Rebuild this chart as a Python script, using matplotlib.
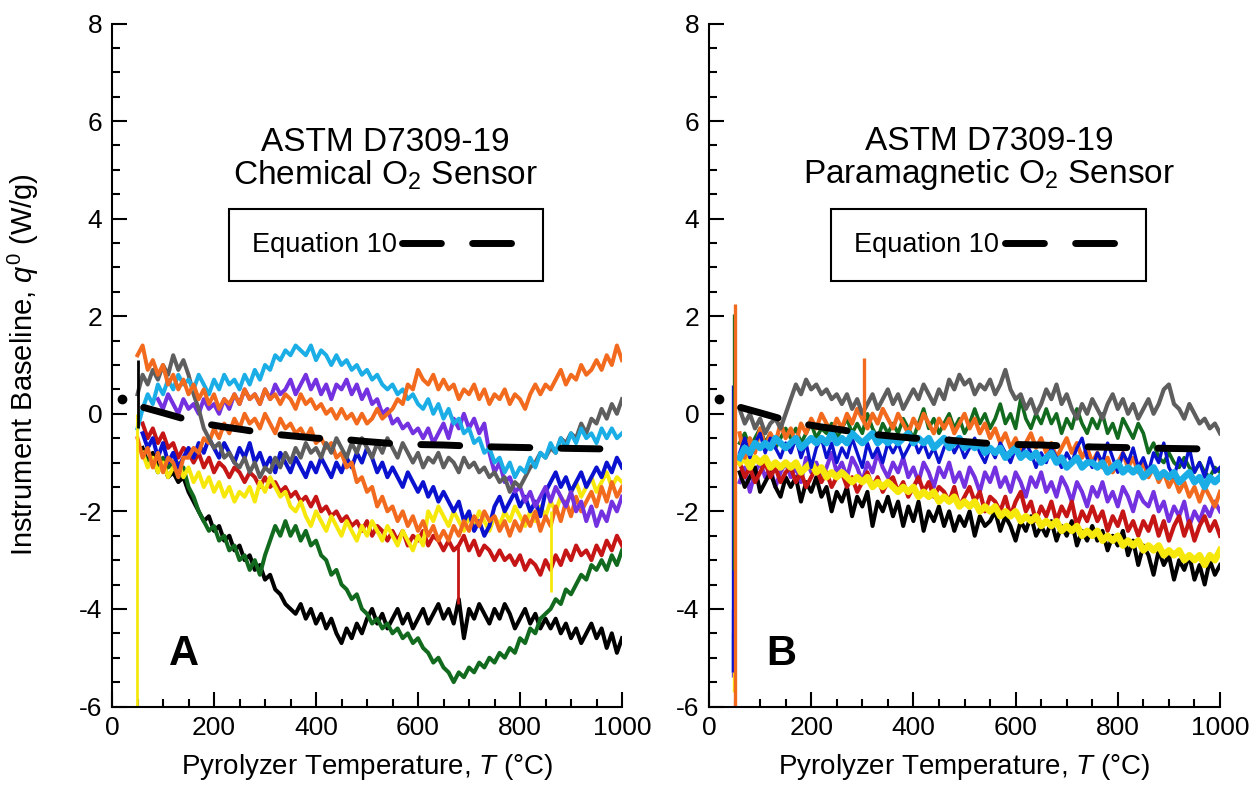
import matplotlib
matplotlib.use('Agg')
import matplotlib.pyplot as plt
from matplotlib.ticker import MultipleLocator
import numpy as np

plt.rcParams['font.family'] = ['Liberation Sans', 'DejaVu Sans']
plt.rcParams['mathtext.fontset'] = 'custom'
plt.rcParams['mathtext.rm'] = 'Liberation Sans'
plt.rcParams['mathtext.it'] = 'Liberation Sans:italic'
plt.rcParams['axes.unicode_minus'] = False

step = 10

# ---- panel A : chemical O2 sensor ----
a_orange1_start = 50
a_orange1 = [1.2, 1.4, 0.9, 1.1, 0.8, 1.0, 0.6, 0.8, 0.5, 0.7,
             0.4, 0.6, 0.3, 0.5, 0.2, 0.4, 0.1, 0.3, 0.2, 0.4,
             0.2, 0.5, 0.3, 0.4, 0.2, 0.5, 0.3, 0.4, 0.2, 0.4,
             0.3, 0.1, 0.4, 0.2, 0.3, 0.1, 0.2, 0.0, 0.1, -0.1,
             0.1, -0.1, 0.0, -0.2, 0.0, -0.2, -0.1, 0.1, -0.1, 0.0,
             0.1, 0.3, 0.2, 0.6, 0.5, 0.9, 0.7, 0.6, 0.8, 0.5,
             0.7, 0.5, 0.6, 0.3, 0.5, 0.4, 0.6, 0.3, 0.5, 0.2,
             0.4, 0.3, 0.5, 0.2, 0.4, 0.3, 0.1, 0.4, 0.6, 0.4,
             0.6, 0.5, 0.7, 0.9, 0.6, 0.8, 0.7, 1.0, 0.8, 0.9,
             1.1, 0.9, 1.2, 1.0, 1.4, 1.1]
a_orange2_start = 50
a_orange2 = [-0.5, -0.9, -0.7, -1.1, -0.8, -1.2, -0.9, -1.0, -1.3, -0.9,
             -0.9, -0.7, -0.8, -0.5, -0.6, -0.3, -0.5, -0.2, -0.4, -0.1,
             -0.3, 0.0, -0.2, -0.1, -0.3, 0.0, -0.2, -0.4, -0.1, -0.3,
             -0.2, -0.4, -0.3, -0.5, -0.3, -0.6, -0.5, -0.7, -0.6, -0.9,
             -0.8, -1.1, -1.0, -1.4, -1.3, -1.6, -1.5, -1.9, -1.7, -2.0,
             -1.9, -2.2, -2.0, -2.3, -2.1, -2.4, -2.2, -2.5, -2.3, -2.6,
             -2.4, -2.6, -2.3, -2.5, -2.2, -2.4, -2.1, -2.3, -2.0, -2.2,
             -2.1, -2.4, -2.2, -2.5, -2.2, -2.4, -2.1, -2.3, -2.0, -2.4,
             -2.1, -2.3, -1.9, -2.2, -1.8, -2.1, -1.7, -2.0, -1.8, -1.6,
             -1.9, -1.5, -1.8, -1.4, -1.7, -1.5]
a_cyan_start = 50
a_cyan = [-0.3, 0.1, 0.4, 0.2, 0.6, 0.4, 0.7, 0.5, 0.8, 0.6,
          0.7, 0.5, 0.8, 0.6, 0.4, 0.7, 0.5, 0.8, 0.6, 0.7,
          0.5, 0.8, 0.6, 0.9, 0.7, 1.0, 0.9, 1.2, 1.1, 1.3,
          1.2, 1.4, 1.3, 1.2, 1.4, 1.1, 1.3, 1.2, 1.0, 1.2,
          1.0, 1.1, 0.9, 1.0, 0.8, 0.9, 0.7, 0.8, 0.6, 0.5,
          0.6, 0.4, 0.5, 0.3, 0.4, 0.2, 0.1, 0.3, 0.0, 0.2,
          -0.1, 0.1, -0.2, -0.1, -0.4, -0.3, -0.6, -0.5, -0.8, -0.7,
          -1.0, -0.9, -1.2, -1.0, -1.3, -1.1, -1.2, -0.9, -1.1, -0.8,
          -0.9, -0.6, -0.8, -0.5, -0.7, -0.4, -0.6, -0.3, -0.5, -0.4,
          -0.6, -0.3, -0.5, -0.3, -0.5, -0.4]
a_gray_start = 50
a_gray = [0.4, 0.8, 0.6, 0.9, 0.7, 1.0, 0.8, 1.2, 0.9, 1.1,
          0.8, 0.4, 0.1, -0.3, -0.5, -0.7, -0.6, -0.9, -0.8, -1.0,
          -1.1, -0.9, -1.2, -1.0, -1.3, -1.1, -1.2, -0.9, -1.1, -0.8,
          -1.0, -0.7, -0.9, -0.6, -0.8, -0.7, -0.9, -0.6, -0.8, -0.5,
          -0.7, -0.9, -0.6, -0.8, -0.5, -0.7, -0.9, -0.6, -0.8, -0.5,
          -0.7, -0.9, -0.6, -0.8, -1.0, -0.8, -1.1, -0.9, -1.0, -0.8,
          -1.1, -0.9, -1.0, -1.2, -0.9, -1.1, -1.0, -1.2, -1.1, -1.3,
          -1.2, -1.4, -1.3, -1.6, -1.4, -1.5, -1.3, -1.1, -1.0, -0.8,
          -0.9, -0.7, -0.8, -0.5, -0.6, -0.4, -0.5, -0.2, -0.4, -0.1,
          -0.2, 0.1, -0.1, 0.2, 0.0, 0.3]
a_purple_start = 90
a_purple = [0.3, 0.1, 0.4, 0.2, 0.0, 0.3, 0.1, 0.2, 0.0, 0.3,
            0.1, 0.2, 0.0, 0.3, 0.1, 0.4, 0.2, 0.5, 0.3, 0.4,
            0.2, 0.5, 0.3, 0.6, 0.4, 0.5, 0.7, 0.4, 0.6, 0.8,
            0.5, 0.7, 0.4, 0.6, 0.3, 0.6, 0.5, 0.7, 0.4, 0.6,
            0.3, 0.5, 0.2, 0.3, 0.0, 0.1, -0.2, -0.1, -0.3, -0.2,
            -0.4, -0.3, -0.5, -0.3, -0.6, -0.4, -0.2, -0.5, -0.1, -0.3,
            0.0, -0.3, -0.1, -0.4, -0.2, -0.8, -1.2, -1.0, -1.4, -1.3,
            -1.6, -1.5, -1.8, -1.6, -1.9, -1.7, -1.5, -1.8, -1.5, -1.7,
            -1.9, -1.6, -2.0, -1.8, -2.2, -1.9, -2.3, -2.0, -2.2, -1.8,
            -2.0, -1.7]
a_blue_start = 60
a_blue = [-0.4, -0.7, -0.5, -0.9, -0.6, -1.0, -0.8, -1.1, -0.9, -0.7,
          -0.9, -0.6, -0.8, -0.5, -0.7, -0.9, -0.6, -0.8, -1.0, -0.7,
          -0.9, -0.6, -1.0, -0.8, -1.1, -0.9, -1.2, -0.8, -1.0, -1.2,
          -0.9, -1.1, -1.3, -1.0, -1.2, -0.9, -1.1, -1.3, -1.0, -1.2,
          -0.9, -1.1, -0.8, -1.0, -0.7, -0.9, -1.2, -1.0, -1.3, -1.1,
          -1.3, -1.5, -1.2, -1.4, -1.6, -1.4, -1.7, -1.5, -1.8, -1.6,
          -1.8, -2.0, -1.8, -2.2, -2.0, -2.4, -2.2, -2.5, -2.3, -1.9,
          -1.7, -2.0, -1.8, -1.6, -1.9, -1.7, -2.0, -1.8, -2.1, -1.6,
          -1.4, -1.2, -1.5, -1.3, -1.6, -1.4, -1.2, -1.5, -1.3, -1.1,
          -1.3, -1.0, -1.2, -0.9, -1.1]
a_red_start = 60
a_red = [-0.2, -0.5, -0.3, -0.6, -0.4, -0.7, -0.6, -0.9, -0.7, -0.8,
         -1.0, -0.8, -1.1, -0.9, -1.2, -1.0, -1.1, -1.3, -1.1, -1.2,
         -1.4, -1.2, -1.3, -1.5, -1.3, -1.5, -1.4, -1.6, -1.5, -1.7,
         -1.6, -1.8, -1.7, -1.9, -1.7, -2.0, -1.9, -2.1, -2.0, -2.2,
         -2.1, -2.3, -2.2, -2.4, -2.2, -2.5, -2.3, -2.4, -2.6, -2.4,
         -2.6, -2.4, -2.7, -2.5, -2.6, -2.4, -2.7, -2.5, -2.6, -2.8,
         -2.6, -2.8, -2.7, -2.5, -2.8, -2.6, -2.9, -2.7, -2.8, -3.0,
         -2.8, -3.0, -2.9, -3.1, -2.9, -3.2, -3.0, -3.1, -3.3, -3.0,
         -3.2, -2.9, -3.1, -2.8, -3.0, -2.7, -2.9, -2.8, -3.0, -2.7,
         -2.9, -2.6, -2.8, -2.5, -2.7]
a_yellow_start = 60
a_yellow = [-0.8, -1.1, -0.9, -1.2, -1.0, -1.3, -1.1, -1.0, -1.3, -1.1,
            -1.4, -1.2, -1.5, -1.3, -1.6, -1.4, -1.7, -1.5, -1.8, -1.6,
            -1.7, -1.5, -1.8, -1.4, -1.6, -1.3, -1.5, -1.7, -1.6, -1.9,
            -2.0, -1.8, -2.1, -2.3, -2.0, -2.2, -2.4, -2.1, -2.3, -2.5,
            -2.2, -2.4, -2.6, -2.3, -2.5, -2.2, -2.4, -2.6, -2.3, -2.5,
            -2.7, -2.4, -2.6, -2.8, -2.5, -2.7, -2.0, -2.2, -1.9, -2.1,
            -2.3, -2.0, -2.2, -2.4, -2.1, -2.3, -2.0, -2.2, -2.4, -2.1,
            -2.3, -2.0, -2.2, -1.9, -2.1, -2.3, -2.0, -2.2, -1.9, -2.1,
            -1.8, -2.0, -1.7, -1.9, -1.6, -1.4, -1.7, -1.5, -1.3, -1.6,
            -1.4, -1.2, -1.5, -1.3, -1.4]
a_green_start = 60
a_green = [-0.8, -1.0, -0.9, -1.2, -0.9, -1.1, -1.0, -1.3, -1.1, -1.5,
           -1.7, -2.0, -2.2, -2.4, -2.3, -2.6, -2.5, -2.8, -2.7, -3.0,
           -2.9, -3.2, -3.0, -3.3, -2.9, -2.6, -2.3, -2.5, -2.2, -2.5,
           -2.3, -2.6, -2.4, -2.7, -2.6, -2.9, -3.0, -3.3, -3.2, -3.5,
           -3.6, -3.8, -3.7, -4.0, -4.1, -4.3, -4.2, -4.4, -4.3, -4.5,
           -4.4, -4.6, -4.5, -4.7, -4.6, -4.8, -4.9, -5.1, -5.0, -5.2,
           -5.3, -5.5, -5.3, -5.4, -5.2, -5.3, -5.1, -5.2, -5.0, -5.1,
           -4.9, -5.0, -4.8, -4.9, -4.6, -4.7, -4.4, -4.5, -4.2, -4.1,
           -4.0, -3.8, -3.9, -3.6, -3.7, -3.5, -3.3, -3.4, -3.1, -3.2,
           -3.0, -3.2, -2.9, -3.1, -2.8]
a_black_start = 60
a_black = [-0.7, -1.0, -0.8, -1.1, -1.0, -1.3, -1.2, -1.4, -1.3, -1.6,
           -1.8, -2.0, -2.2, -2.1, -2.4, -2.3, -2.6, -2.5, -2.8, -2.7,
           -3.0, -2.9, -3.2, -3.1, -3.4, -3.3, -3.6, -3.7, -3.9, -4.0,
           -4.1, -3.9, -4.2, -4.0, -4.3, -4.1, -4.4, -4.2, -4.5, -4.7,
           -4.4, -4.6, -4.3, -4.5, -4.2, -4.0, -4.3, -4.1, -4.4, -4.2,
           -4.0, -4.3, -4.1, -4.4, -4.2, -4.0, -4.3, -4.1, -3.9, -4.2,
           -4.0, -4.3, -3.8, -4.6, -4.0, -4.2, -3.9, -4.1, -4.3, -4.0,
           -4.2, -3.9, -4.1, -4.4, -4.2, -4.0, -4.3, -4.1, -4.4, -4.2,
           -4.4, -4.2, -4.5, -4.3, -4.6, -4.4, -4.7, -4.5, -4.3, -4.6,
           -4.4, -4.8, -4.5, -4.9, -4.6]

# ---- panel B : paramagnetic O2 sensor ----
b_start = 60
b_gray = [0.1, -0.2, 0.0, -0.3, -0.1, -0.4, -0.2, -0.1, -0.3, 0.0,
          0.3, 0.6, 0.4, 0.7, 0.5, 0.6, 0.4, 0.5, 0.3, 0.4,
          0.2, 0.4, 0.1, 0.3, 0.0, 0.2, 0.4, 0.1, 0.3, 0.5,
          0.2, 0.4, 0.1, 0.3, 0.5, 0.3, 0.6, 0.4, 0.2, 0.5,
          0.3, 0.7, 0.5, 0.8, 0.6, 0.7, 0.4, 0.6, 0.5, 0.7,
          0.4, 0.6, 0.9, 0.5, 0.3, 0.4, 0.1, 0.3, 0.0, 0.2,
          0.5, 0.3, 0.6, 0.2, 0.4, 0.1, -0.1, 0.2, 0.0, 0.3,
          0.1, -0.1, 0.2, 0.4, 0.1, 0.3, 0.0, 0.2, -0.1, 0.1,
          0.3, 0.0, 0.2, 0.5, 0.6, 0.2, 0.1, -0.1, 0.2, 0.0,
          -0.2, -0.1, -0.3, -0.2, -0.4]
b_orange = [-0.4, -0.9, -0.5, -0.8, -0.3, -0.7, -0.4, -0.6, -0.2, -0.5,
            -0.3, -0.6, -0.2, -0.4, -0.1, -0.3, 0.0, -0.2, -0.4, -0.1,
            -0.3, 0.0, -0.2, 0.1, -0.1, -0.3, 0.0, -0.2, 0.1, -0.1,
            -0.3, 0.0, -0.2, -0.4, -0.1, -0.3, 0.0, -0.2, -0.4, -0.1,
            -0.3, -0.1, -0.4, -0.2, 0.0, -0.3, -0.1, -0.4, -0.2, -0.5,
            -0.3, -0.6, -0.4, -0.7, -0.5, -0.8, -0.6, -0.4, -0.7, -0.5,
            -0.8, -0.6, -0.9, -0.7, -0.5, -0.8, -0.6, -0.9, -0.7, -1.0,
            -0.8, -1.1, -0.9, -1.2, -1.0, -0.8, -1.1, -0.9, -1.2, -1.0,
            -1.3, -1.1, -1.4, -1.2, -1.5, -1.3, -1.6, -1.4, -1.7, -1.5,
            -1.8, -1.5, -1.7, -1.9, -1.6]
b_green = [-0.6, -0.4, -0.7, -0.5, -0.3, -0.6, -0.4, -0.7, -0.5, -0.3,
           -0.5, -0.3, -0.6, -0.4, -0.2, -0.5, -0.3, -0.4, -0.2, -0.5,
           -0.3, -0.1, -0.4, -0.2, -0.4, 0.0, -0.3, -0.5, -0.2, -0.4,
           -0.2, -0.4, -0.1, -0.3, -0.5, -0.2, 0.1, -0.3, -0.1, -0.4,
           -0.2, 0.0, -0.3, -0.1, -0.4, -0.2, 0.1, -0.2, 0.0, -0.3,
           -0.1, 0.2, -0.2, 0.0, -0.3, 0.3, -0.1, -0.3, 0.0, -0.2,
           0.1, -0.2, 0.0, -0.4, -0.1, -0.3, 0.1, -0.2, -0.4, -0.1,
           -0.3, 0.0, -0.4, -0.2, -0.5, -0.1, -0.3, -0.5, -0.2, -0.4,
           -0.8, -0.6, -0.9, -1.0, -0.8, -1.0, -1.1, -0.9, -1.1, -1.2,
           -1.0, -1.2, -1.3, -1.1, -1.2]
b_blue = [-0.8, -0.5, -0.9, -0.6, -0.4, -0.8, -0.5, -0.7, -0.9, -0.6,
          -0.8, -0.5, -0.9, -0.6, -1.1, -0.7, -0.5, -0.9, -0.6, -1.0,
          -0.7, -0.9, -0.5, -0.8, -1.1, -0.6, -0.9, -0.7, -1.0, -0.6,
          -0.8, -0.6, -0.9, -0.7, -0.5, -0.8, -0.6, -0.9, -0.7, -1.0,
          -0.7, -0.5, -0.8, -0.6, -0.9, -0.7, -0.5, -0.8, -1.0, -0.7,
          -0.9, -0.6, -0.8, -1.0, -0.7, -0.9, -0.6, -0.8, -1.1, -0.8,
          -1.0, -0.7, -0.9, -1.1, -0.8, -1.0, -0.7, -0.5, -0.9, -1.1,
          -0.8, -1.0, -0.6, -0.9, -1.2, -0.8, -1.0, -0.7, -1.1, -0.9,
          -1.2, -0.8, -1.0, -0.6, -1.1, -1.3, -0.9, -1.1, -0.7, -1.2,
          -1.0, -1.3, -0.9, -1.2, -1.1]
b_cyan = [-0.9, -0.7, -0.8, -0.6, -0.7, -0.6, -0.7, -0.5, -0.6, -0.7,
          -0.6, -0.5, -0.7, -0.6, -0.5, -0.6, -0.5, -0.6, -0.4, -0.6,
          -0.5, -0.6, -0.4, -0.5, -0.6, -0.5, -0.4, -0.6, -0.5, -0.6,
          -0.5, -0.6, -0.5, -0.4, -0.6, -0.5, -0.6, -0.5, -0.7, -0.6,
          -0.5, -0.7, -0.6, -0.5, -0.7, -0.6, -0.7, -0.6, -0.8, -0.7,
          -0.8, -0.7, -0.9, -0.8, -0.7, -0.9, -0.8, -0.9, -0.8, -1.0,
          -0.9, -0.8, -1.0, -0.9, -1.1, -1.0, -0.9, -1.1, -1.0, -1.0,
          -1.1, -1.0, -1.2, -1.1, -1.0, -1.2, -1.1, -1.2, -1.1, -1.3,
          -1.2, -1.1, -1.3, -1.2, -1.3, -1.2, -1.4, -1.3, -1.2, -1.4,
          -1.3, -1.5, -1.3, -1.4, -1.3]
b_purple = [-1.4, -1.1, -1.6, -1.2, -1.0, -1.3, -1.1, -1.5, -1.2, -1.0,
            -1.3, -1.1, -1.4, -0.9, -1.2, -1.0, -1.3, -1.1, -0.8, -1.2,
            -1.0, -1.3, -0.9, -1.1, -1.4, -1.0, -1.2, -0.8, -1.1, -1.3,
            -1.0, -1.2, -0.9, -1.3, -1.1, -1.4, -1.0, -1.2, -1.5, -1.1,
            -1.3, -1.0, -1.4, -1.2, -1.5, -1.1, -1.3, -1.6, -1.2, -1.4,
            -1.1, -1.5, -1.3, -1.6, -1.2, -1.4, -1.7, -1.3, -1.5, -1.2,
            -1.6, -1.4, -1.7, -1.3, -1.5, -1.8, -1.4, -1.6, -1.9, -1.5,
            -1.7, -1.4, -1.8, -1.6, -1.9, -1.5, -1.7, -2.0, -1.6, -1.8,
            -1.9, -1.6, -2.0, -1.8, -2.2, -1.9, -2.1, -1.8, -2.3, -2.0,
            -2.2, -1.9, -2.1, -1.8, -2.0]
b_red = [-1.0, -1.3, -1.1, -1.4, -1.2, -1.0, -1.3, -1.1, -1.4, -1.2,
         -1.1, -1.4, -1.2, -1.5, -1.3, -1.1, -1.4, -1.2, -1.5, -1.3,
         -1.2, -1.5, -1.3, -1.6, -1.4, -1.2, -1.5, -1.3, -1.6, -1.4,
         -1.3, -1.6, -1.4, -1.7, -1.5, -1.3, -1.6, -1.4, -1.7, -1.5,
         -1.6, -1.8, -1.5, -1.9, -1.7, -1.5, -1.8, -1.6, -2.0, -1.7,
         -1.8, -2.0, -1.7, -2.1, -1.8, -1.6, -2.0, -1.8, -2.2, -1.9,
         -2.1, -1.8, -2.2, -1.9, -2.1, -1.8, -2.3, -2.0, -2.2, -1.9,
         -2.2, -2.0, -2.4, -2.1, -2.3, -2.0, -2.4, -2.2, -2.5, -2.2,
         -2.4, -2.1, -2.5, -2.2, -2.6, -2.3, -2.1, -2.5, -2.2, -2.6,
         -2.3, -2.1, -2.4, -2.2, -2.5]
b_yellow = [-1.0, -0.9, -1.1, -0.9, -1.0, -0.9, -1.1, -1.0, -1.1, -1.0,
            -1.1, -1.0, -1.2, -1.1, -1.0, -1.2, -1.1, -1.3, -1.2, -1.3,
            -1.2, -1.3, -1.4, -1.3, -1.4, -1.3, -1.5, -1.4, -1.5, -1.4,
            -1.5, -1.6, -1.5, -1.6, -1.5, -1.7, -1.6, -1.7, -1.6, -1.8,
            -1.7, -1.8, -1.7, -1.9, -1.8, -1.9, -1.8, -2.0, -1.9, -2.0,
            -1.9, -2.1, -2.0, -2.1, -2.0, -2.2, -2.1, -2.2, -2.1, -2.3,
            -2.2, -2.3, -2.2, -2.4, -2.3, -2.4, -2.3, -2.5, -2.4, -2.5,
            -2.4, -2.6, -2.5, -2.6, -2.5, -2.7, -2.6, -2.7, -2.6, -2.8,
            -2.7, -2.8, -2.7, -2.9, -2.8, -2.9, -2.8, -3.0, -2.9, -3.0,
            -2.9, -3.1, -2.9, -3.0, -2.8]
b_black = [-1.2, -1.5, -1.3, -1.1, -1.6, -1.4, -1.2, -1.5, -1.7, -1.3,
           -1.5, -1.3, -1.8, -1.4, -1.6, -1.3, -1.7, -1.5, -2.0, -1.6,
           -1.8, -1.5, -2.1, -1.7, -1.9, -1.6, -2.3, -1.8, -2.0, -1.7,
           -2.1, -1.8, -2.3, -1.9, -2.2, -1.8, -2.4, -2.0, -2.2, -1.9,
           -2.3, -2.0, -2.4, -2.1, -2.3, -2.0, -2.5, -2.1, -2.3, -2.2,
           -2.0, -2.4, -2.1, -2.3, -2.6, -2.2, -2.4, -2.1, -2.5, -2.3,
           -2.5, -2.2, -2.6, -2.3, -2.5, -2.2, -2.7, -2.4, -2.6, -2.3,
           -2.6, -2.4, -2.8, -2.5, -2.7, -2.4, -2.9, -2.6, -3.1, -2.7,
           -2.9, -3.3, -2.8, -3.1, -2.9, -3.4, -3.0, -3.2, -2.9, -3.4,
           -3.1, -3.5, -3.0, -3.3, -3.1]

# vertical glitches (temperature, low, high)
a_spike_T = [49, 51, 678, 860]
a_spike_lo = [-6.5, -0.3, -3.9, -3.65]
a_spike_hi = [0.0, 1.1, -2.7, -2.0]
a_spike_c = ['yellow', 'black', 'red', 'yellow']
b_spike_T = [48, 46, 47, 48, 46, 49, 51, 304]
b_spike_lo = [-4.2, -5.4, -5.3, -5.7, -5.3, -3.2, -6.5, -0.1]
b_spike_hi = [0.0, -4.0, -4.5, -5.2, 0.6, 2.05, 2.25, 1.15]
b_spike_c = ['red', 'purple', 'cyan', 'yellow', 'blue', 'green', 'orange', 'orange']

# Equation 10 baseline
eq_T = [20, 62, 100, 140, 180, 220, 260, 300, 350, 400, 450, 500,
        550, 600, 650, 700, 750, 800, 850, 900, 965]
eq_q = [0.3, 0.13, 0.02, -0.1, -0.2, -0.27, -0.33, -0.4, -0.45, -0.5, -0.52, -0.57,
        -0.61, -0.63, -0.64, -0.66, -0.68, -0.69, -0.7, -0.71, -0.72]

colors = {'orange': '#F26A1E', 'gray': '#5E5E5E', 'cyan': '#1BAEE6',
          'purple': '#7331DF', 'blue': '#0A12CF', 'red': '#C51515',
          'yellow': '#F7E80C', 'green': '#116A1D', 'black': '#000000'}


def temps(start, vals):
    return start + step * np.arange(len(vals))


fig = plt.figure(figsize=(12.52, 7.86), dpi=100)
axA = fig.add_axes([112 / 1252, 79.5 / 786, 510 / 1252, 683 / 786])
axB = fig.add_axes([709 / 1252, 79.5 / 786, 511 / 1252, 683 / 786])

# panel A traces (back to front)
tracesA = [(a_black_start, a_black, 'black'), (a_green_start, a_green, 'green'),
           (a_red_start, a_red, 'red'), (a_yellow_start, a_yellow, 'yellow'),
           (a_blue_start, a_blue, 'blue'), (a_orange2_start, a_orange2, 'orange'),
           (a_purple_start, a_purple, 'purple'), (a_gray_start, a_gray, 'gray'),
           (a_cyan_start, a_cyan, 'cyan'), (a_orange1_start, a_orange1, 'orange')]
for s, v, c in tracesA:
    axA.plot(temps(s, v), v, color=colors[c], lw=2.9)
axA.vlines(a_spike_T, a_spike_lo, a_spike_hi, colors=[colors[c] for c in a_spike_c], lw=2)

# panel B traces (back to front)
tracesB = [(b_purple, 'purple', 2.9), (b_black, 'black', 2.9), (b_red, 'red', 3.0),
           (b_yellow, 'yellow', 4.8), (b_green, 'green', 2.6), (b_orange, 'orange', 3.0),
           (b_blue, 'blue', 2.4), (b_cyan, 'cyan', 4.8), (b_gray, 'gray', 3.0)]
for v, c, w in tracesB:
    axB.plot(temps(b_start, v), v, color=colors[c], lw=w)
axB.vlines(b_spike_T, b_spike_lo, b_spike_hi, colors=[colors[c] for c in b_spike_c], lw=2.4)

titles = ['ASTM D7309-19\nChemical O$_2$ Sensor', 'ASTM D7309-19\nParamagnetic O$_2$ Sensor']
letters = ['A', 'B']
title_x = [536, 548]
legend_x = [0.537, 0.547]

for i, ax in enumerate([axA, axB]):
    # Equation 10 dashed line plus its starting point
    eq_line, = ax.plot(eq_T[1:], eq_q[1:], color='black', lw=5, dashes=(5.6, 4.5),
                       dash_capstyle='round', label='Equation 10')
    ax.plot(eq_T[0], eq_q[0], 'o', color='black', ms=6)

    ax.set_xlim(0, 1000)
    ax.set_ylim(-6, 8)
    ax.xaxis.set_major_locator(MultipleLocator(200))
    ax.xaxis.set_minor_locator(MultipleLocator(50))
    ax.yaxis.set_major_locator(MultipleLocator(2))
    ax.yaxis.set_minor_locator(MultipleLocator(0.5))
    ax.tick_params(which='major', direction='in', length=11, width=1.5, labelsize=19, pad=7)
    ax.tick_params(which='minor', direction='in', length=6, width=1.5)
    ax.spines['top'].set_visible(False)
    ax.spines['right'].set_visible(False)
    ax.spines['left'].set_linewidth(1.5)
    ax.spines['bottom'].set_linewidth(1.5)

    ax.set_xlabel('Pyrolyzer Temperature, $T$ (°C)', fontsize=20)
    ax.xaxis.set_label_coords(0.5, -0.066)

    ax.text(title_x[i], 5.22, titles[i], ha='center', va='center', fontsize=24, linespacing=1.02)
    ax.text(141, -4.93, letters[i], ha='center', va='center', fontsize=30, fontweight='bold')

    leg = ax.legend(handles=[eq_line], loc='center', bbox_to_anchor=(legend_x[i], 0.675),
                    markerfirst=False, handlelength=4.35, handletextpad=0.2,
                    borderpad=0.85, fancybox=False, edgecolor='black', framealpha=1,
                    fontsize=19.5)
    leg.get_frame().set_linewidth(1.5)

axA.set_ylabel('Instrument Baseline, $q^0$ (W/g)', fontsize=21)
axA.yaxis.set_label_coords(-0.14, 0.5)

plt.savefig('out.png', dpi=100)
